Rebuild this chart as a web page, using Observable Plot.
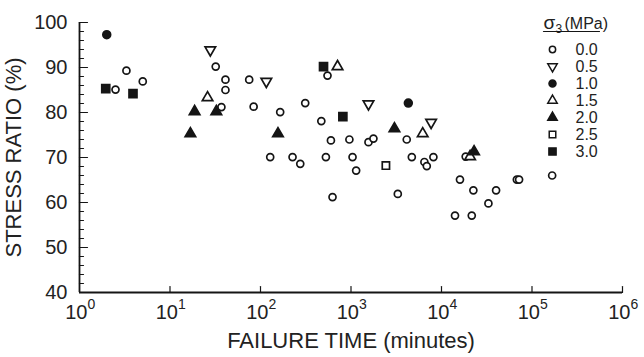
<!DOCTYPE html>
<html><head><meta charset="utf-8">
<script src="https://cdn.jsdelivr.net/npm/d3@7"></script>
<script src="https://cdn.jsdelivr.net/npm/@observablehq/plot@0.6"></script>
<style>
body{margin:0;background:#fff;}
#wrap{position:relative;width:644px;height:357px;font-family:"Liberation Sans",Arial,sans-serif;}
#legend{position:absolute;left:530px;top:0;}
#main{position:absolute;left:0;top:0;}
</style></head><body><div id="wrap"><div id="main"></div><div id="legend"></div></div>
<script>
// ---- data ----
const sigma3 = ["0.0","0.5","1.0","1.5","2.0","2.5","3.0"];
const time00 = [2.5, 3.3, 5.0, 32, 41, 41, 75, 37, 84, 165, 312, 550, 470, 4130, 600, 960, 1560, 1770, 128, 226, 528, 1040, 4700, 8140, 275, 6470, 6880, 1140, 625, 3290, 18500, 16000, 22500, 40100, 33000, 14100, 21600, 68000, 72000, 167000];
const ratio00 = [85.1, 89.3, 86.9, 90.2, 87.3, 85.0, 87.3, 81.2, 81.3, 80.1, 82.1, 88.2, 78.1, 74.0, 73.8, 74.0, 73.4, 74.2, 70.1, 70.1, 70.1, 70.1, 70.1, 70.1, 68.6, 69.0, 68.1, 67.1, 61.2, 61.9, 70.2, 65.1, 62.7, 62.7, 59.8, 57.1, 57.1, 65.1, 65.1, 66.0];
const time05 = [27.9, 116, 1560, 7680];
const ratio05 = [93.9, 86.9, 81.9, 77.8];
const time10 = [2.0, 4300];
const ratio10 = [97.3, 82.1];
const time15 = [26, 710, 6200, 20700];
const ratio15 = [83.3, 90.2, 75.3, 70.2];
const time20 = [16.8, 18.7, 32.5, 156, 3020, 22900];
const ratio20 = [75.3, 80.2, 80.2, 75.3, 76.4, 71.3];
const time25 = [2430];
const ratio25 = [68.2];
const time30 = [1.95, 3.9, 497, 813];
const ratio30 = [85.3, 84.2, 90.2, 79.1];

const xTickValues = [1e1, 1e2, 1e3, 1e4, 1e5, 1e6];
const xLabelValues = [1e0, 1e1, 1e2, 1e3, 1e4, 1e5, 1e6];
const xLabelBase = ["10","10","10","10","10","10","10"];
const xLabelExp = ["0","1","2","3","4","5","6"];
const yMajor = [40, 50, 60, 70, 80, 90, 100];
const yMinor = d3.range(40, 101, 2).filter(v => v % 10 !== 0);

// ---- styles (per σ3 group) ----
const ink = "#151515";
const styles = [
  {symbol: "circle", fill: "white", stroke: ink, r: 3.5, rotate: 0},
  {symbol: "triangle", fill: "white", stroke: ink, r: 3.9, rotate: 180},
  {symbol: "circle", fill: ink, stroke: ink, r: 3.9, rotate: 0},
  {symbol: "triangle", fill: "white", stroke: ink, r: 3.9, rotate: 0},
  {symbol: "triangle", fill: ink, stroke: ink, r: 3.9, rotate: 0},
  {symbol: "square", fill: "white", stroke: ink, r: 4.1, rotate: 0},
  {symbol: "square", fill: ink, stroke: ink, r: 4.5, rotate: 0}
];
const groups = [
  [time00, ratio00], [time05, ratio05], [time10, ratio10], [time15, ratio15],
  [time20, ratio20], [time25, ratio25], [time30, ratio30]
].map(([t, r], i) => t.map((v, j) => ({time: v, ratio: r[j], sigma: sigma3[i]})));

const tickShape = {draw(context, l) { context.moveTo(0, 0); context.lineTo(0, -l); }};
const font = 20;

const dotMarks = groups.map((rows, i) => Plot.dot(rows, {
  x: "time", y: "ratio",
  symbol: styles[i].symbol, fill: styles[i].fill, stroke: styles[i].stroke,
  r: styles[i].r, rotate: styles[i].rotate, strokeWidth: 1.7
}));

const chart = Plot.plot({
  width: 644, height: 357,
  marginLeft: 79, marginRight: 22, marginTop: 22, marginBottom: 65,
  style: {fontFamily: '"Liberation Sans", Arial, sans-serif', background: "white", overflow: "visible"},
  x: {type: "log", domain: [1, 1e6], axis: null},
  y: {domain: [40, 100], axis: null},
  marks: [
    Plot.ruleY([40], {stroke: ink, strokeWidth: 1.8}),
    Plot.ruleX([1], {stroke: ink, strokeWidth: 1.8}),
    Plot.vector(yMajor, {y: d => d, frameAnchor: "left", length: 8, rotate: 90, anchor: "start", shape: tickShape, stroke: ink, strokeWidth: 1.2}),
    Plot.vector(yMinor, {y: d => d, frameAnchor: "left", length: 4, rotate: 90, anchor: "start", shape: tickShape, stroke: ink, strokeWidth: 1.2}),
    Plot.vector(xTickValues, {x: d => d, frameAnchor: "bottom", length: 6, anchor: "start", shape: tickShape, stroke: ink, strokeWidth: 1.2}),
    Plot.text(yMajor, {y: d => d, text: d => String(d), frameAnchor: "left", textAnchor: "end", dx: -12, fontSize: font, fill: "#222"}),
    Plot.text(xLabelValues, {x: d => d, text: (d, i) => xLabelBase[i], frameAnchor: "bottom", textAnchor: "end", lineAnchor: "bottom", dx: 8, dy: 26, fontSize: font, fill: "#222"}),
    Plot.text(xLabelValues, {x: d => d, text: (d, i) => xLabelExp[i], frameAnchor: "bottom", textAnchor: "start", lineAnchor: "bottom", dx: 8, dy: 16, fontSize: 14, fill: "#222"}),
    Plot.text(["FAILURE TIME (minutes)"], {frameAnchor: "bottom", textAnchor: "middle", lineAnchor: "bottom", dy: 55, fontSize: 22, fill: "#222"}),
    Plot.text(["STRESS RATIO (%)"], {frameAnchor: "left", textAnchor: "middle", rotate: -90, lineAnchor: "top", dx: -74, dy: 0, fontSize: 22, fill: "#222"}),
    ...dotMarks
  ]
});
document.getElementById("main").append(chart);

// ---- legend ----
const legendRows = sigma3.map((s, i) => ({label: s, i}));
const legend = Plot.plot({
  width: 114, height: 180, margin: 0,
  style: {fontFamily: '"Liberation Sans", Arial, sans-serif', background: "transparent", overflow: "visible"},
  y: {type: "point", domain: sigma3, range: [49, 151], padding: 0, axis: null},
  marks: [
    ...legendRows.map(d => Plot.dot([d], {
      y: "label", frameAnchor: "left", dx: 22,
      symbol: styles[d.i].symbol, fill: styles[d.i].fill, stroke: styles[d.i].stroke,
      r: styles[d.i].r * 0.9, rotate: styles[d.i].rotate, strokeWidth: 1.5
    })),
    Plot.text(legendRows, {y: "label", text: "label", frameAnchor: "left", textAnchor: "start", dx: 45, fontSize: 16, fill: "#222"}),
    Plot.text(["σ"], {frameAnchor: "top-left", textAnchor: "start", lineAnchor: "bottom", dx: 13, dy: 28, fontSize: 19, fill: "#222"}),
    Plot.text(["3"], {frameAnchor: "top-left", textAnchor: "start", lineAnchor: "bottom", dx: 25, dy: 32, fontSize: 12, fill: "#222"}),
    Plot.text(["(MPa)"], {frameAnchor: "top-left", textAnchor: "start", lineAnchor: "bottom", dx: 34, dy: 28, fontSize: 16, fill: "#222"}),
    Plot.vector([0], {frameAnchor: "top-left", dx: 13, dy: 31, length: 56, rotate: 90, anchor: "start", shape: tickShape, stroke: ink, strokeWidth: 1.2})
  ]
});
document.getElementById("legend").append(legend);
</script>
</body></html>
